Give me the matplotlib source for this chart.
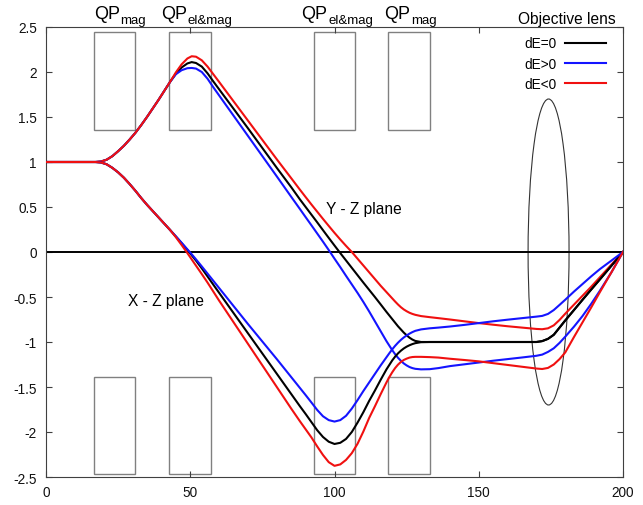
import matplotlib; matplotlib.use('Agg')
import matplotlib.pyplot as plt
from matplotlib.patches import Rectangle, Ellipse
from matplotlib.ticker import FuncFormatter

plt.rcParams.update({
    'font.family': ['Liberation Sans', 'DejaVu Sans'],
    'axes.unicode_minus': False,
})
BLACK, BLUE, RED, FRAME, BOX = '#000000', '#1414ff', '#f01010', '#404040', '#808080'

# ── trajectories ──────────────────────────────────────────────────────────────
z = [0, 17, 19, 21, 23, 25, 27, 29, 31, 33, 35, 37, 39, 41, 43, 45, 47, 49, 50.5, 52,
     54, 56, 58, 60, 65, 70, 75, 80, 85, 88, 90, 92, 94, 96, 98, 100, 102, 104, 106, 108,
     110, 112, 114, 116, 118, 119, 120, 121, 122, 123, 124, 125, 126, 127, 128, 130, 133, 136, 140, 145,
     150, 155, 160, 165, 170, 172, 174, 176, 178, 180, 183, 186, 189, 192, 196, 200]

# Y - Z plane
yz_0 = [1, 1, 1.005, 1.025, 1.065, 1.12, 1.18, 1.25, 1.325, 1.41, 1.5, 1.595, 1.69, 1.79, 1.89, 1.98, 2.05, 2.095, 2.11, 2.10,
        2.06, 1.985, 1.895, 1.808, 1.592, 1.375, 1.155, 0.935, 0.72, 0.585, 0.50, 0.415, 0.33, 0.243, 0.157, 0.072, -0.012, -0.094, -0.176, -0.258,
        -0.34, -0.42, -0.50, -0.582, -0.665, -0.705, -0.745, -0.785, -0.825, -0.86, -0.895, -0.925, -0.952, -0.973, -0.988, -1.0, -1.0, -1.0, -1.0, -1.0,
        -1.0, -1.0, -1.0, -1.0, -1.0, -0.99, -0.965, -0.92, -0.84, -0.76, -0.645, -0.53, -0.416, -0.304, -0.152, 0]
yz_pos = [1, 1, 1.005, 1.025, 1.065, 1.12, 1.18, 1.25, 1.325, 1.41, 1.5, 1.595, 1.69, 1.79, 1.89, 1.975, 2.02, 2.042, 2.045, 2.038,
          2.0, 1.925, 1.83, 1.74, 1.515, 1.29, 1.065, 0.84, 0.613, 0.478, 0.387, 0.297, 0.206, 0.115, 0.022, -0.074, -0.168, -0.265, -0.36, -0.455,
          -0.555, -0.66, -0.77, -0.88, -0.99, -1.04, -1.09, -1.135, -1.175, -1.208, -1.238, -1.26, -1.278, -1.29, -1.298, -1.304, -1.302, -1.29, -1.268, -1.248,
          -1.228, -1.208, -1.19, -1.172, -1.153, -1.14, -1.11, -1.07, -1.01, -0.94, -0.83, -0.71, -0.575, -0.43, -0.225, 0]
yz_neg = [1, 1, 1.005, 1.025, 1.065, 1.12, 1.18, 1.25, 1.325, 1.41, 1.5, 1.595, 1.69, 1.79, 1.89, 1.995, 2.085, 2.15, 2.175, 2.17,
          2.13, 2.06, 1.975, 1.89, 1.675, 1.46, 1.245, 1.03, 0.82, 0.693, 0.61, 0.528, 0.448, 0.368, 0.29, 0.213, 0.139, 0.068, 0.0, -0.075,
          -0.15, -0.225, -0.30, -0.375, -0.445, -0.48, -0.515, -0.55, -0.583, -0.613, -0.638, -0.658, -0.675, -0.688, -0.698, -0.712, -0.724, -0.735, -0.75, -0.77,
          -0.79, -0.808, -0.825, -0.84, -0.855, -0.858, -0.848, -0.815, -0.755, -0.685, -0.585, -0.485, -0.385, -0.28, -0.14, 0]

# X - Z plane
xz_0 = [1, 1, 0.995, 0.975, 0.935, 0.885, 0.825, 0.755, 0.68, 0.6, 0.525, 0.455, 0.385, 0.315, 0.245, 0.172, 0.098, 0.022, -0.036, -0.096,
        -0.182, -0.272, -0.363, -0.453, -0.678, -0.903, -1.128, -1.353, -1.578, -1.713, -1.80, -1.89, -1.98, -2.055, -2.108, -2.133, -2.12, -2.077, -2.0, -1.895,
        -1.78, -1.655, -1.54, -1.42, -1.305, -1.255, -1.205, -1.163, -1.127, -1.097, -1.072, -1.052, -1.036, -1.023, -1.013, -1.002, -1.0, -1.0, -1.0, -1.0,
        -1.0, -1.0, -1.0, -1.0, -1.0, -0.99, -0.965, -0.92, -0.84, -0.76, -0.645, -0.53, -0.416, -0.304, -0.152, 0]
xz_pos = [1, 1, 0.995, 0.975, 0.935, 0.885, 0.825, 0.755, 0.68, 0.6, 0.525, 0.455, 0.385, 0.315, 0.245, 0.175, 0.103, 0.03, -0.025, -0.082,
          -0.16, -0.24, -0.32, -0.40, -0.60, -0.80, -0.995, -1.19, -1.39, -1.51, -1.59, -1.672, -1.755, -1.825, -1.868, -1.884, -1.868, -1.82, -1.74, -1.645,
          -1.545, -1.45, -1.355, -1.26, -1.17, -1.125, -1.082, -1.043, -1.008, -0.977, -0.95, -0.927, -0.907, -0.89, -0.876, -0.86, -0.848, -0.84, -0.828, -0.81,
          -0.79, -0.77, -0.752, -0.735, -0.718, -0.71, -0.688, -0.645, -0.588, -0.53, -0.44, -0.355, -0.27, -0.19, -0.095, 0]
xz_neg = [1, 1, 0.995, 0.975, 0.935, 0.885, 0.825, 0.755, 0.68, 0.6, 0.525, 0.455, 0.385, 0.315, 0.245, 0.165, 0.078, -0.012, -0.082, -0.152,
          -0.245, -0.34, -0.44, -0.54, -0.78, -1.02, -1.26, -1.50, -1.74, -1.88, -1.97, -2.06, -2.16, -2.255, -2.335, -2.376, -2.36, -2.31, -2.235, -2.13,
          -1.995, -1.845, -1.715, -1.58, -1.45, -1.39, -1.337, -1.29, -1.252, -1.222, -1.2, -1.185, -1.173, -1.167, -1.165, -1.165, -1.168, -1.173, -1.186, -1.2,
          -1.215, -1.235, -1.255, -1.275, -1.295, -1.3, -1.288, -1.25, -1.19, -1.115, -0.945, -0.78, -0.615, -0.445, -0.225, 0]

# quadrupoles and objective lens
qp_left = [16.5, 42.8, 92.8, 118.6]
qp_width = 14.4
qp_sub = ['mag', 'el&mag', 'el&mag', 'mag']
qp_anchor = [25.6, 48.8, 97.6, 126.2]   # where "QP" ends and the subscript starts
upper_box = (1.36, 2.44)
lower_box = (-2.47, -1.39)
lens_z, lens_w, lens_h = 174.2, 14.2, 3.4

fig = plt.figure(figsize=(6.43, 5.06), dpi=100)
ax = fig.add_axes([46 / 643, 28 / 506, 577 / 643, 450 / 506])

for x0 in qp_left:
    for y0, y1 in (upper_box, lower_box):
        ax.add_patch(Rectangle((x0, y0), qp_width, y1 - y0, fill=False, ec=BOX, lw=1.0, zorder=1))
ax.add_patch(Ellipse((lens_z, 0), lens_w, lens_h, fill=False, ec='#333333', lw=0.8, zorder=1))

ax.axhline(0, color='black', lw=1.4, zorder=2)

for ys, c, lab in ((yz_0, BLACK, 'dE=0'), (yz_pos, BLUE, 'dE>0'), (yz_neg, RED, 'dE<0')):
    ax.plot(z, ys, color=c, lw=1.5, label=lab, zorder=3)
for ys, c in ((xz_0, BLACK), (xz_pos, BLUE), (xz_neg, RED)):
    ax.plot(z, ys, color=c, lw=1.5, zorder=3)

ax.set_xlim(0, 200)
ax.set_ylim(-2.5, 2.5)
ax.set_xticks(range(0, 201, 50))
ax.set_yticks([-2.5, -2, -1.5, -1, -0.5, 0, 0.5, 1, 1.5, 2, 2.5])
ax.yaxis.set_major_formatter(FuncFormatter(lambda v, p: f'{v:g}'))
ax.tick_params(direction='in', top=True, right=True, length=4, width=0.8,
               color=FRAME, labelsize=9.8, labelcolor='#111111')
ax.tick_params(axis='y', pad=6.5)
ax.tick_params(axis='x', pad=6)
for s in ax.spines.values():
    s.set_color(FRAME)
    s.set_linewidth(0.8)

tr = ax.get_xaxis_transform()
for x, sub in zip(qp_anchor, qp_sub):
    ax.text(x, 1.02, 'QP', transform=tr, ha='right', va='baseline', fontsize=13)
    ax.annotate(sub, (x, 1.02), xycoords=tr, xytext=(0.5, -3.5), textcoords='offset points',
                ha='left', va='baseline', fontsize=9.5)
ax.text(180.5, 1.008, 'Objective lens', transform=tr, ha='center', va='baseline', fontsize=11.2)

ax.text(110.2, 0.43, 'Y - Z plane', ha='center', va='baseline', fontsize=11.2)
ax.text(41.6, -0.59, 'X - Z plane', ha='center', va='baseline', fontsize=11.2)

ax.legend(loc='upper right', bbox_to_anchor=(0.9705, 0.979), borderaxespad=0, borderpad=0,
          frameon=False, markerfirst=False, handlelength=3.0, handletextpad=0.65,
          labelspacing=0.46, fontsize=9.8)

fig.savefig('out.png', dpi=100)
plt.close(fig)
